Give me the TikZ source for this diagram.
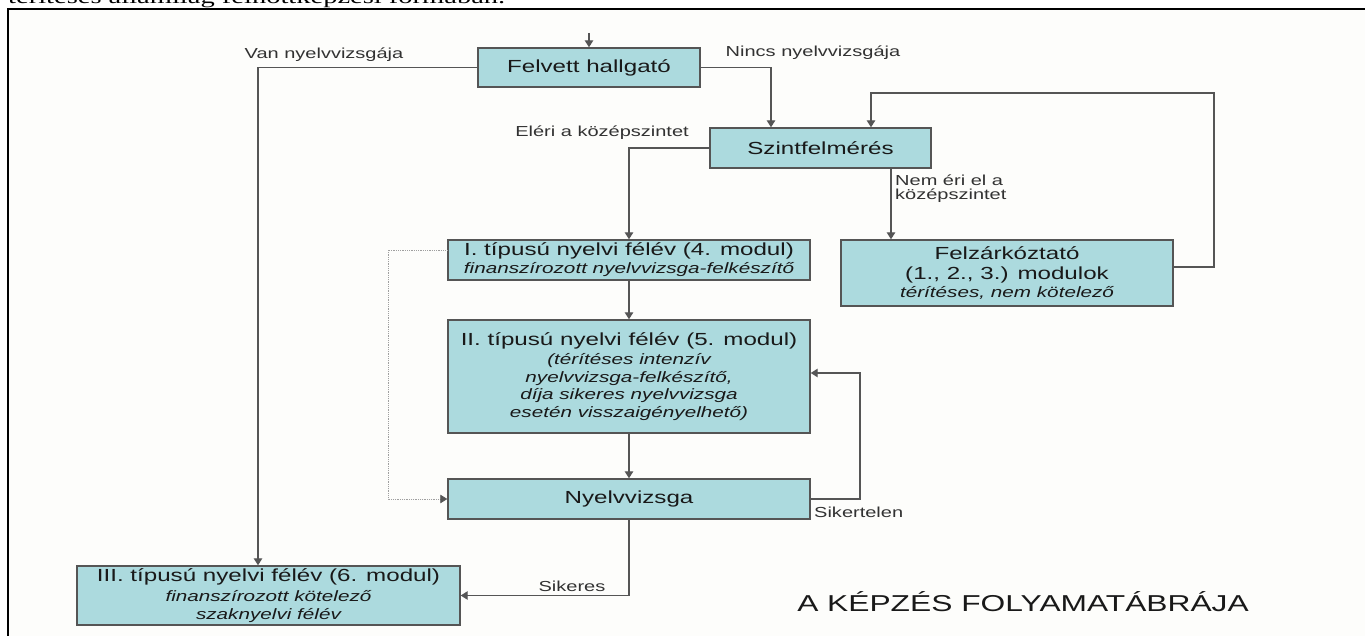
\documentclass[tikz,border=0pt]{standalone}
\usepackage{fontspec}
\setmainfont{Liberation Sans}[FakeStretch=1.38]
\newfontfamily\cutserif{Liberation Serif}
\usetikzlibrary{arrows.meta}
\definecolor{boxfill}{RGB}{172,218,222}
\definecolor{boxborder}{RGB}{85,85,85}
\definecolor{linegray}{RGB}{85,85,85}
\definecolor{textdark}{RGB}{25,25,25}
\definecolor{labelgray}{RGB}{50,50,50}
\definecolor{paper}{RGB}{253,253,251}
\tikzset{
  flowbox/.style={draw=boxborder, fill=boxfill, line width=1.4pt, inner sep=0pt,
    align=center, text=textdark, font=\fontsize{17.5}{17.5}\selectfont},
  conn/.style={draw=linegray, line width=1.2pt, -{Triangle[length=7pt,width=8.5pt]}},
  dotconn/.style={draw=gray!75, line width=0.8pt, densely dotted,
    -{Triangle[length=7pt,width=8.5pt,color=linegray]}},
  lbl/.style={text=labelgray, inner sep=0pt, font=\fontsize{14.5}{14}\selectfont},
}
\begin{document}
\begin{tikzpicture}[x=1pt,y=-1pt]
\useasboundingbox (0,0) rectangle (1365,636);
\fill[white] (0,0) rectangle (1365,636);
\fill[paper] (8,9) rectangle (1365,636);
\node[anchor=base west, inner sep=0pt] (cuttext) at (8,4)
  {\resizebox{497pt}{14pt}{\cutserif térítéses államilag felnőttképzési formában.}};
\draw[line width=2.6pt] (1365,9) -- (8,9) -- (8,636);

% boxes
\node[flowbox, minimum width=222pt, minimum height=39pt] (felvett) at (589,67.5) {Felvett hallgató};
\node[flowbox, minimum width=221pt, minimum height=40pt] (szint) at (820.5,148) {Szintfelmérés};
\node[flowbox, minimum width=362pt, minimum height=40pt] (tipI) at (629,260)
  {I. típusú nyelvi félév (4. modul)\\[0.5pt]{\itshape\fontsize{15}{15}\selectfont finanszírozott nyelvvizsga-felkészítő}};
\node[flowbox, minimum width=332pt, minimum height=66pt] (felz) at (1007,273)
  {Felzárkóztató\\[2.5pt](1., 2., 3.) modulok\\{\itshape\fontsize{15}{15}\selectfont térítéses, nem kötelező}};
\node[flowbox, minimum width=362pt, minimum height=113pt] (tipII) at (629,376.5)
  {II. típusú nyelvi félév (5. modul)\\[1.5pt]
   {\itshape\fontsize{15}{15}\selectfont (térítéses intenzív}\\
   {\itshape\fontsize{15}{15}\selectfont nyelvvizsga-felkészítő,}\\
   {\itshape\fontsize{15}{15}\selectfont díja sikeres nyelvvizsga}\\
   {\itshape\fontsize{15}{15}\selectfont esetén visszaigényelhető)}};
\node[flowbox, minimum width=362pt, minimum height=40pt] (nyelv) at (629,499) {Nyelvvizsga};
\node[flowbox, minimum width=383pt, minimum height=59pt] (tipIII) at (268.5,595.5)
  {III. típusú nyelvi félév (6. modul)\\[2.5pt]
   {\itshape\fontsize{15}{15}\selectfont finanszírozott kötelező}\\[0.5pt]
   {\itshape\fontsize{15}{15}\selectfont szaknyelvi félév}};

% helper coordinates
\coordinate (topin) at (589,33);
\coordinate (vanx) at (258,67.5);
\coordinate (nincsx) at (771,67.5);
\coordinate (nemx) at (891,168);
\coordinate (loopR) at (1214,93);
\coordinate (loopL) at (871,93);
\coordinate (sikx) at (860,373);
\coordinate (dotx) at (388,250);

% connectors
\draw[conn] (topin) -- (felvett);
\draw[conn] (felvett.west) -- (vanx) -- (vanx |- tipIII.north);
\draw[conn] (felvett.east) -- (nincsx) -- (nincsx |- szint.north);
\draw[conn] (szint.west) -| (tipI.north);
\draw[conn] (szint.south -| nemx) -- (felz.north -| nemx);
\draw[conn] ([yshift=6pt]felz.east) -| (loopR) -| (szint.north -| loopL);
\draw[conn] (tipI) -- (tipII);
\draw[conn] (tipII) -- (nyelv);
\draw[conn] (nyelv.east) -| (sikx) -- (sikx -| tipII.east);
\draw[conn] (nyelv.south) |- (tipIII.east);
\draw[dotconn] (tipI.west |- dotx) -- (dotx) |- (nyelv.west);

% labels
\node[lbl] (lvan) at (324,55) {Van nyelvvizsgája};
\node[lbl] (lnincs) at (813,53) {Nincs nyelvvizsgája};
\node[lbl] (leleri) at (602,133) {Eléri a középszintet};
\node[lbl, anchor=west, align=left] (lnem) at (895,188.5) {Nem éri el a\\középszintet};
\node[lbl, anchor=west] (lsikertelen) at (814,512) {Sikertelen};
\node[lbl] (lsikeres) at (572,586) {Sikeres};
\node[text=textdark, inner sep=0pt, font=\fontsize{23}{26}\selectfont] (title) at (1023,602) {A KÉPZÉS FOLYAMATÁBRÁJA};
\end{tikzpicture}
\end{document}
